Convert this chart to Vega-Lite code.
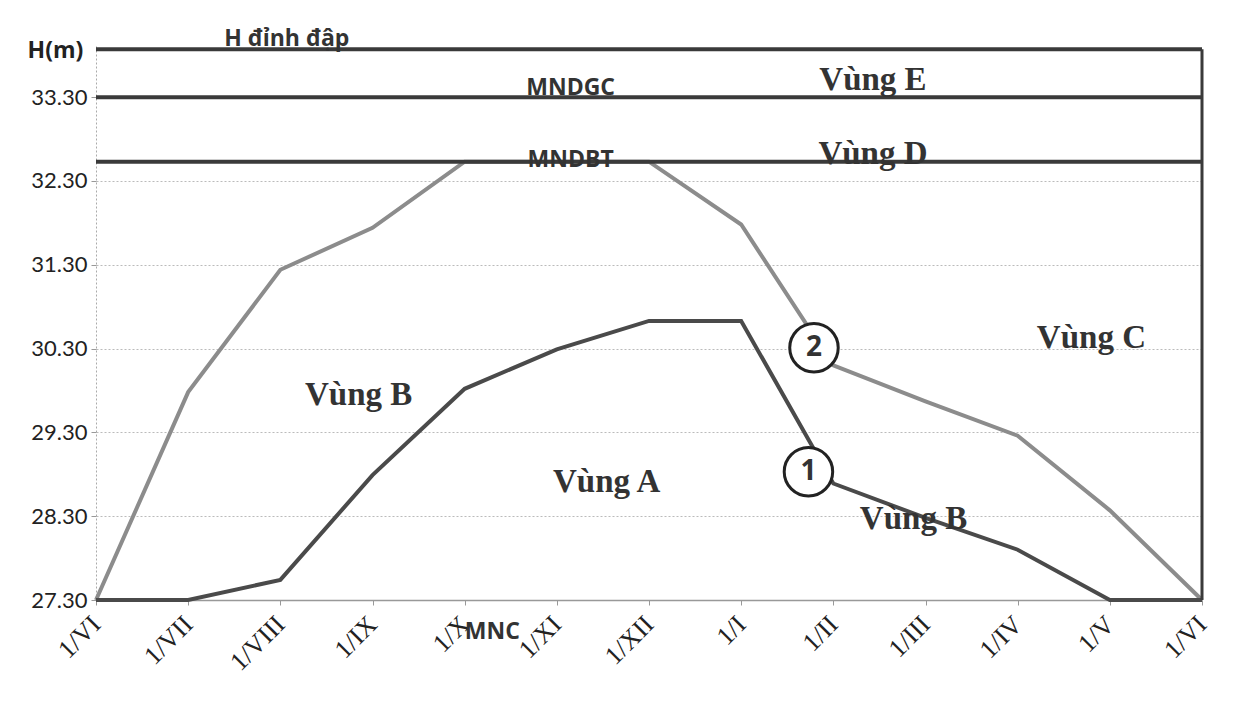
{
  "$schema": "https://vega.github.io/schema/vega-lite/v6.json",
  "width": 1106,
  "height": 554,
  "autosize": "none",
  "padding": {"left": 96, "top": 46, "right": 51, "bottom": 110},
  "background": "white",
  "config": {"view": {"stroke": null}},
  "datasets": {
    "curves": [
      {"curve": "upper", "m": 0, "h": 27.3},
      {"curve": "upper", "m": 1, "h": 29.78},
      {"curve": "upper", "m": 2, "h": 31.24},
      {"curve": "upper", "m": 3, "h": 31.74},
      {"curve": "upper", "m": 4, "h": 32.53},
      {"curve": "upper", "m": 5, "h": 32.53},
      {"curve": "upper", "m": 6, "h": 32.53},
      {"curve": "upper", "m": 7, "h": 31.78},
      {"curve": "upper", "m": 8, "h": 30.1},
      {"curve": "upper", "m": 9, "h": 29.67},
      {"curve": "upper", "m": 10, "h": 29.26},
      {"curve": "upper", "m": 11, "h": 28.37},
      {"curve": "upper", "m": 12, "h": 27.3},
      {"curve": "lower", "m": 0, "h": 27.3},
      {"curve": "lower", "m": 1, "h": 27.3},
      {"curve": "lower", "m": 2, "h": 27.54},
      {"curve": "lower", "m": 3, "h": 28.79},
      {"curve": "lower", "m": 4, "h": 29.82},
      {"curve": "lower", "m": 5, "h": 30.29},
      {"curve": "lower", "m": 6, "h": 30.63},
      {"curve": "lower", "m": 7, "h": 30.63},
      {"curve": "lower", "m": 8, "h": 28.69},
      {"curve": "lower", "m": 9, "h": 28.28},
      {"curve": "lower", "m": 10, "h": 27.9},
      {"curve": "lower", "m": 11, "h": 27.3},
      {"curve": "lower", "m": 12, "h": 27.3}
    ],
    "levels": [
      {"name": "H đỉnh đập", "m": 0, "m2": 12, "h": 33.87},
      {"name": "MNDGC", "m": 0, "m2": 12, "h": 33.3},
      {"name": "MNDBT", "m": 0, "m2": 12, "h": 32.53}
    ],
    "levelLabels": [
      {"name": "H đỉnh đập", "m": 2.07, "h": 33.99},
      {"name": "MNDGC", "m": 5.15, "h": 33.41},
      {"name": "MNDBT", "m": 5.15, "h": 32.55},
      {"name": "MNC", "m": 4.3, "h": 26.92}
    ],
    "zones": [
      {"label": "Vùng E", "m": 8.43, "h": 33.5},
      {"label": "Vùng D", "m": 8.43, "h": 32.62},
      {"label": "Vùng C", "m": 10.8, "h": 30.43},
      {"label": "Vùng B", "m": 2.85, "h": 29.75},
      {"label": "Vùng A", "m": 5.54, "h": 28.71},
      {"label": "Vùng B", "m": 8.87, "h": 28.27}
    ],
    "markers": [
      {"n": "2", "m": 7.79, "h": 30.31},
      {"n": "1", "m": 7.73, "h": 28.83}
    ]
  },
  "encoding": {
    "x": {
      "field": "m", "type": "quantitative",
      "scale": {"domain": [0, 12], "nice": false, "zero": false},
      "axis": {
        "title": null,
        "values": [0, 1, 2, 3, 4, 5, 6, 7, 8, 9, 10, 11, 12],
        "labelExpr": "'1/' + ['VI','VII','VIII','IX','X','XI','XII','I','II','III','IV','V','VI'][datum.value]",
        "labelAngle": -45,
        "labelAlign": "right",
        "labelBaseline": "middle",
        "labelPadding": 15,
        "labelFont": "Liberation Serif",
        "labelFontSize": 26,
        "labelColor": "#222",
        "labelOverlap": false,
        "grid": false,
        "domainColor": "#999",
        "domainWidth": 1.5,
        "tickColor": "#999",
        "tickSize": 5
      }
    },
    "y": {
      "field": "h", "type": "quantitative",
      "scale": {"domain": [27.3, 33.91], "nice": false, "zero": false},
      "axis": {
        "title": "H(m)",
        "titleAngle": 0,
        "titleX": -41,
        "titleY": 4,
        "titleAlign": "center",
        "titleBaseline": "middle",
        "titleFont": "Open Sans",
        "titleFontSize": 23,
        "titleFontWeight": "bold",
        "titleColor": "#222",
        "values": [27.3, 28.3, 29.3, 30.3, 31.3, 32.3, 33.3],
        "format": ".2f",
        "labelFont": "Lato",
        "labelFontSize": 22,
        "labelColor": "#222",
        "labelPadding": 4,
        "tickSize": 5,
        "tickColor": "#999",
        "domainColor": "#aaa",
        "domainDash": [2, 2],
        "grid": true,
        "gridColor": "#bbb",
        "gridDash": [2, 2],
        "gridWidth": 1
      }
    }
  },
  "layer": [
    {
      "data": {"name": "curves"},
      "mark": {"type": "line", "strokeWidth": 4},
      "encoding": {
        "detail": {"field": "curve"},
        "color": {
          "field": "curve", "type": "nominal",
          "scale": {"domain": ["upper", "lower"], "range": ["#8c8c8c", "#4a4a4a"]},
          "legend": null
        }
      }
    },
    {
      "data": {"name": "levels"},
      "mark": {"type": "rule", "strokeWidth": 4, "color": "#3a3a3a"},
      "encoding": {
        "x2": {"field": "m2"}
      }
    },
    {
      "data": {"values": [{"m": 12, "h": 27.3, "h2": 33.87}]},
      "mark": {"type": "rule", "strokeWidth": 3, "color": "#3a3a3a"},
      "encoding": {"y2": {"field": "h2"}}
    },
    {
      "data": {"name": "levelLabels"},
      "mark": {"type": "text", "font": "Open Sans", "fontSize": 23, "fontWeight": "bold", "color": "#333", "baseline": "middle"},
      "encoding": {"text": {"field": "name"}}
    },
    {
      "data": {"name": "zones"},
      "mark": {"type": "text", "font": "Liberation Serif", "fontSize": 33, "fontWeight": "bold", "color": "#333", "baseline": "middle"},
      "encoding": {"text": {"field": "label"}}
    },
    {
      "data": {"name": "markers"},
      "mark": {"type": "point", "shape": "circle", "filled": false, "fill": "white", "fillOpacity": 1, "stroke": "#222", "strokeWidth": 3, "size": 2350, "opacity": 1},
      "encoding": {}
    },
    {
      "data": {"name": "markers"},
      "mark": {"type": "text", "font": "Open Sans", "fontSize": 28, "fontWeight": "bold", "color": "#333", "baseline": "middle"},
      "encoding": {"text": {"field": "n"}}
    }
  ]
}
